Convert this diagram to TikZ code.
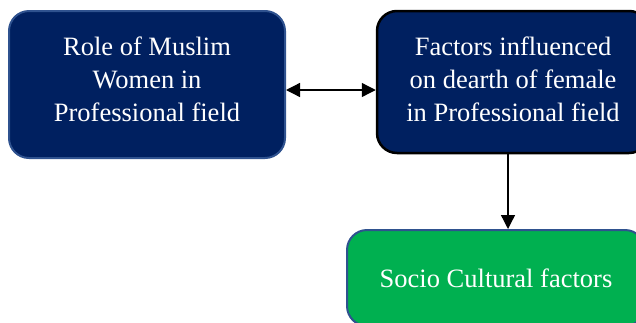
\documentclass[tikz,border=0pt]{standalone}
\usepackage{fontspec}
\setmainfont{Liberation Serif}
\newfontfamily\timesfont{Liberation Serif}
\usetikzlibrary{arrows.meta}
\definecolor{navy}{HTML}{002060}
\definecolor{edgeblue}{HTML}{2F528F}
\definecolor{boxgreen}{HTML}{00B050}
\tikzset{
  box/.style={rounded corners=20pt, inner sep=0pt},
  txt/.style={text=white, align=center, inner sep=0pt,
    font=\timesfont\fontsize{26.5}{33}\selectfont},
  conn/.style={line width=1.3pt, {Triangle[length=14pt,width=14pt]}-{Triangle[length=14pt,width=14pt]}},
  down/.style={line width=1.3pt, -{Triangle[length=14pt,width=14pt]}}
}
\begin{document}
\begin{tikzpicture}[x=1pt,y=-1pt]
\useasboundingbox (0,0) rectangle (636,322);
\clip (0,0) rectangle (636,322);
\node[box, fill=navy, draw=edgeblue, line width=2pt, minimum width=276pt, minimum height=147pt] (b1) at (147,84.5) {};
\node[txt] (t1) at (147,79) {Role of Muslim\\Women in\\Professional field};
\node[box, fill=navy, draw=black, line width=2.5pt, minimum width=272pt, minimum height=142pt] (b2) at (513,82) {};
\node[txt] (t2) at (513,79) {Factors influenced\\on dearth of female\\in Professional field};
\node[box, fill=boxgreen, draw=edgeblue, line width=2pt, minimum width=298pt, minimum height=96pt] (b3) at (496,278) {};
\node[txt] (t3) at (496,278) {Socio Cultural factors};
\coordinate (ay) at (330,90);
\coordinate (dx) at (508,200);
\draw[conn] (b1.east |- ay) -- (b2.west |- ay);
\draw[down] (b2.south -| dx) -- (b3.north -| dx);
\end{tikzpicture}
\end{document}
